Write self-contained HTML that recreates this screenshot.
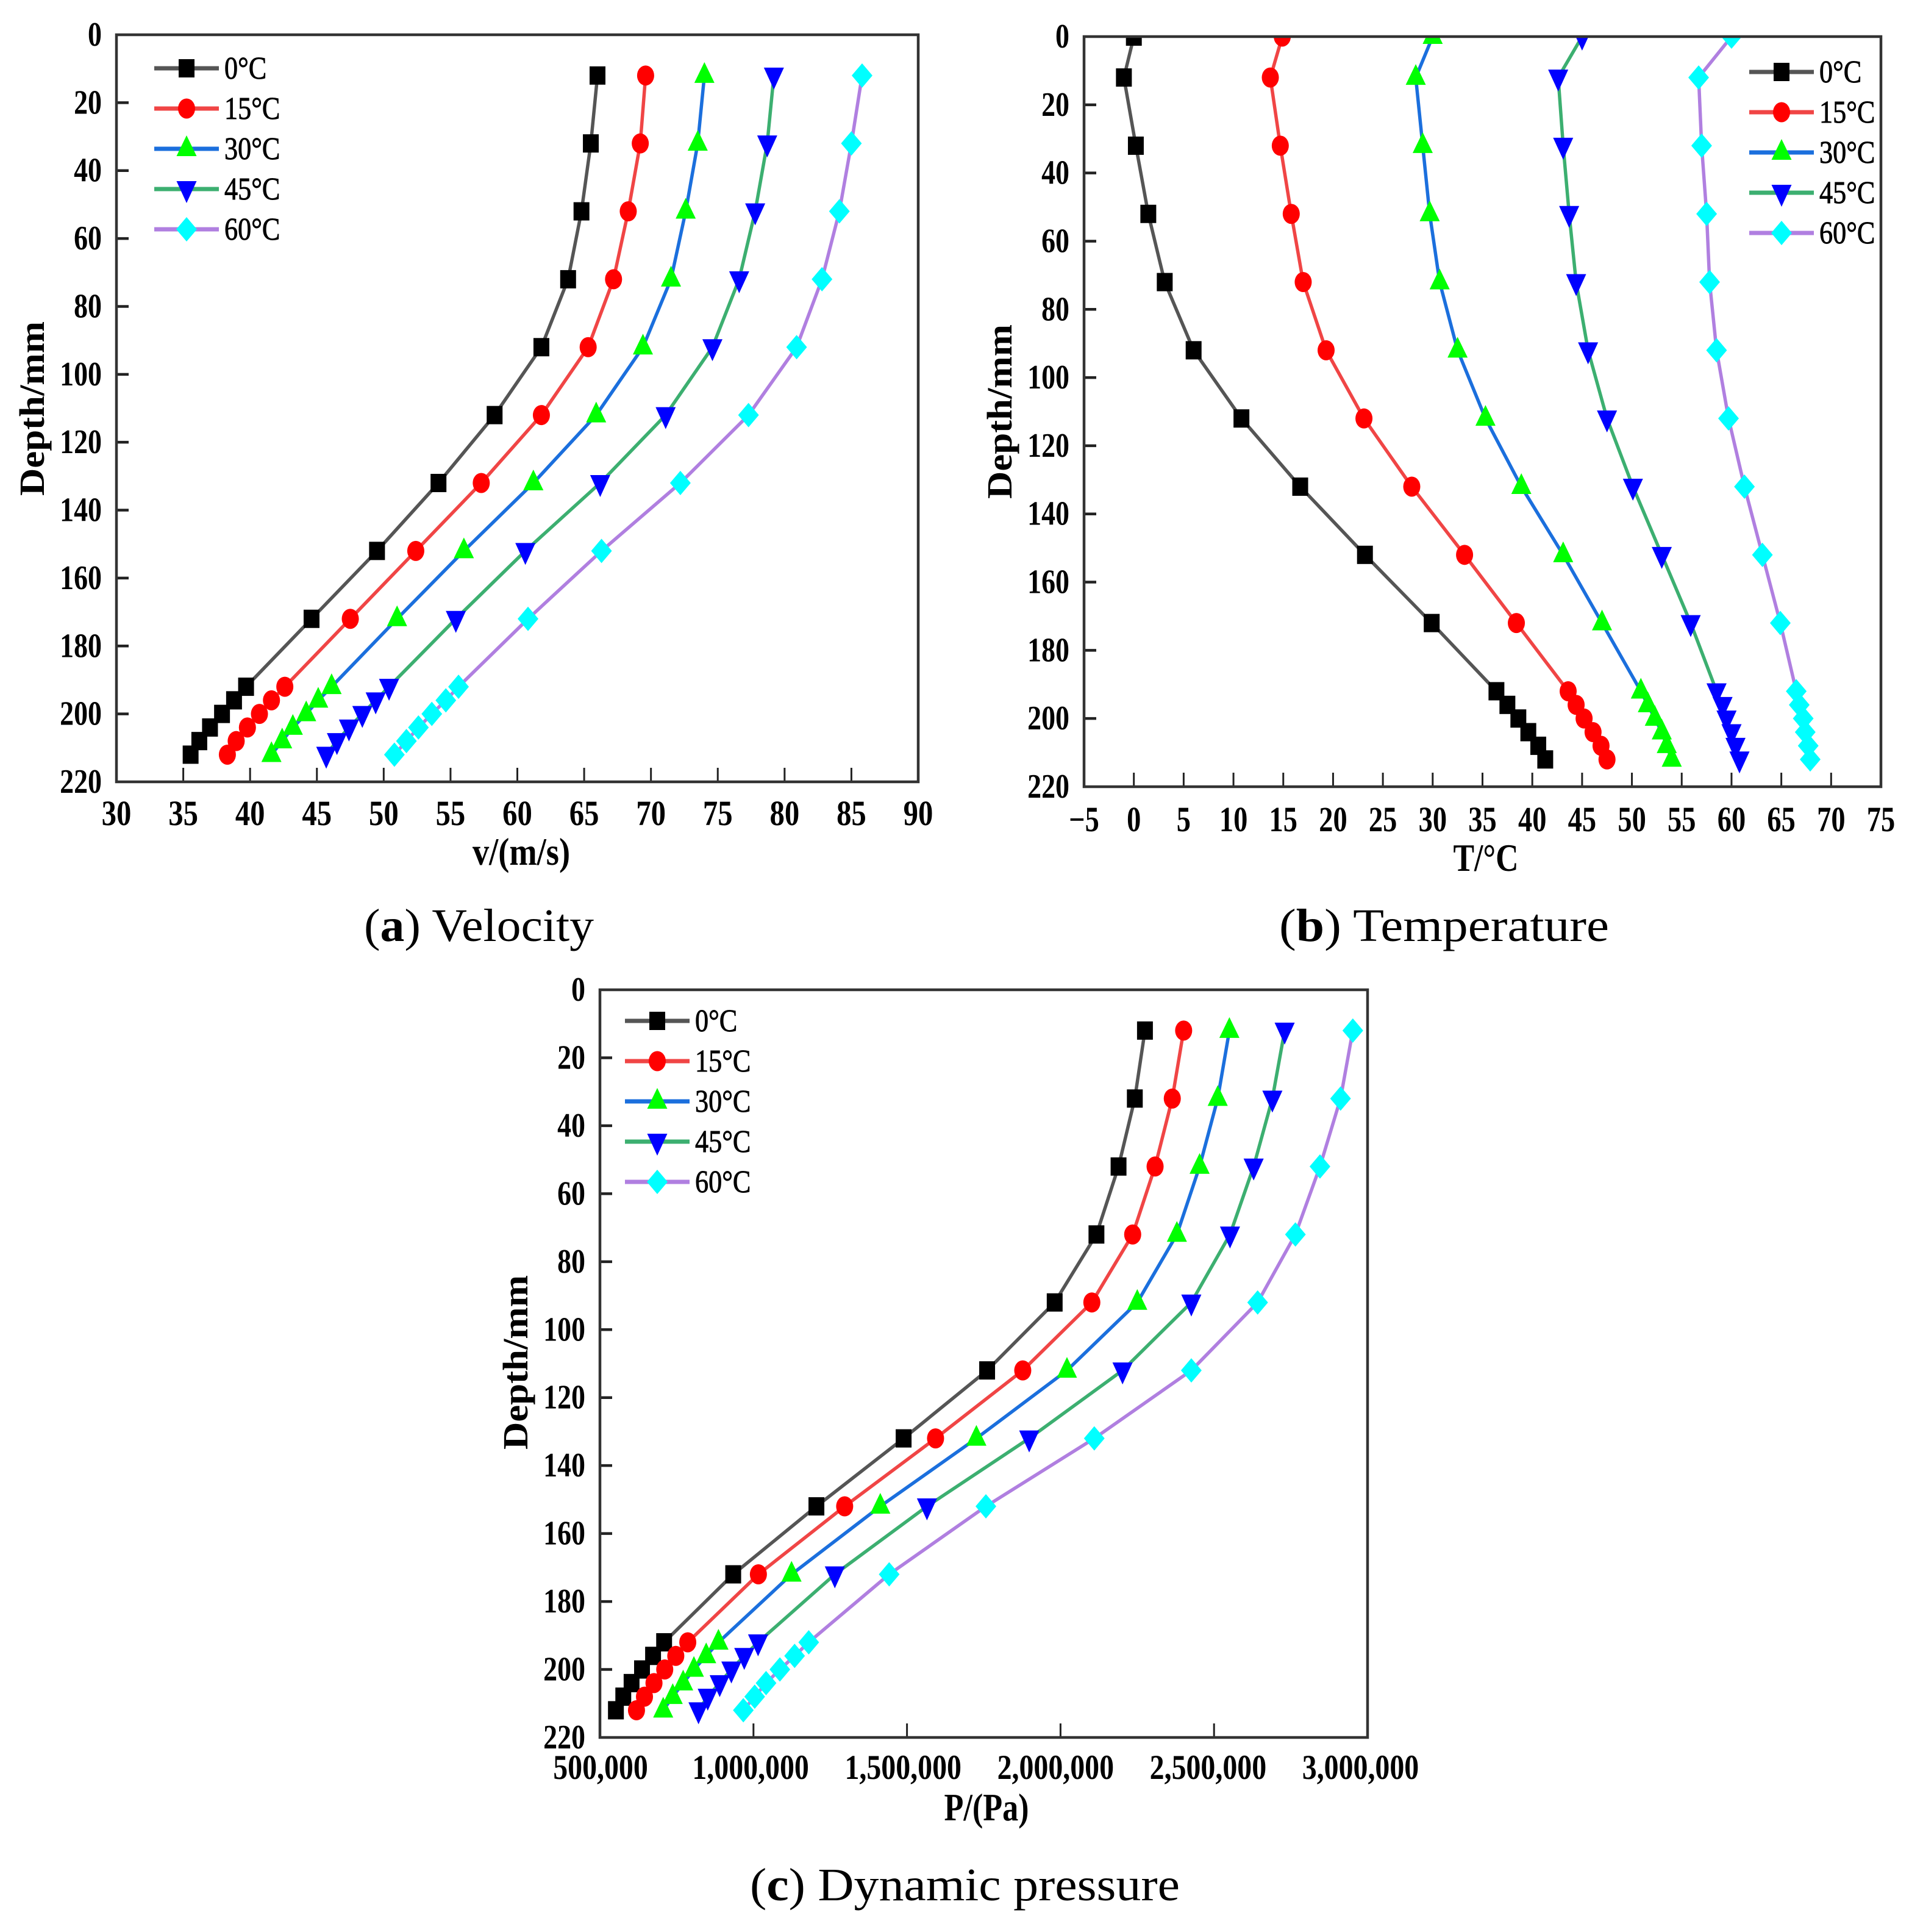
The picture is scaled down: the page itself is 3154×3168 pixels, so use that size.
<!DOCTYPE html>
<html lang="en">
<head>
<meta charset="utf-8">
<title>Velocity, temperature and dynamic pressure profiles</title>
<style>
html,body{margin:0;padding:0;background:#fff;}
svg{display:block;}
text{font-family:"Liberation Serif",serif;fill:#000;}
</style>
</head>
<body>
<svg id="root" xmlns="http://www.w3.org/2000/svg" width="3154" height="3168" viewBox="0 0 3154 3168">
  <defs>
    <clipPath id="clip-a"><rect x="191" y="57" width="1315" height="1226"/></clipPath>
    <clipPath id="clip-b"><rect x="1778" y="60" width="1307" height="1230"/></clipPath>
    <clipPath id="clip-c"><rect x="984" y="1623" width="1260" height="1227"/></clipPath>
  </defs>
  <rect x="0" y="0" width="3154" height="3168" fill="#fff"/>
  <g id="chart-a"></g>
  <g id="chart-b"></g>
  <g id="chart-c"></g>

  <text x="597" y="1543" font-size="76" textLength="377" lengthAdjust="spacingAndGlyphs">(<tspan font-weight="bold">a</tspan>) Velocity</text>
  <text x="2098" y="1543" font-size="76" textLength="541" lengthAdjust="spacingAndGlyphs">(<tspan font-weight="bold">b</tspan>) Temperature</text>
  <text x="1230" y="3116" font-size="76" textLength="705" lengthAdjust="spacingAndGlyphs">(<tspan font-weight="bold">c</tspan>) Dynamic pressure</text>
</svg>

<script>
// Categories
const temperatures = ['0°C', '15°C', '30°C', '45°C', '60°C'];

// Depth values (mm)
const depthsAC = [12, 32, 52, 72, 92, 112, 132, 152, 172, 192, 196, 200, 204, 208, 212];
const depthsB = [0, 12, 32, 52, 72, 92, 112, 132, 152, 172, 192, 196, 200, 204, 208, 212];

// Velocity series (m/s)
const velocity0 = [66.0, 65.5, 64.8, 63.8, 61.8, 58.3, 54.1, 49.5, 44.6, 39.7, 38.8, 37.9, 37.0, 36.2, 35.55];
const velocity15 = [69.6, 69.2, 68.3, 67.2, 65.3, 61.8, 57.3, 52.4, 47.5, 42.6, 41.6, 40.7, 39.8, 38.96, 38.3];
const velocity30 = [74.0, 73.5, 72.6, 71.5, 69.4, 65.9, 61.2, 56.0, 51.0, 46.1, 45.1, 44.2, 43.2, 42.4, 41.6];
const velocity45 = [79.2, 78.7, 77.8, 76.6, 74.6, 71.1, 66.2, 60.6, 55.4, 50.4, 49.4, 48.4, 47.4, 46.5, 45.7];
const velocity60 = [85.8, 85.0, 84.1, 82.8, 80.9, 77.3, 72.2, 66.3, 60.8, 55.6, 54.65, 53.6, 52.6, 51.7, 50.8];

// Temperature series (°C)
const temperature0 = [0, -1.0, 0.2, 1.45, 3.1, 6.0, 10.8, 16.7, 23.2, 29.9, 36.4, 37.5, 38.6, 39.6, 40.6, 41.3];
const temperature15 = [14.9, 13.7, 14.7, 15.8, 17.0, 19.3, 23.1, 27.9, 33.2, 38.4, 43.6, 44.4, 45.2, 46.1, 46.9, 47.5];
const temperature30 = [30.0, 28.3, 29.0, 29.7, 30.7, 32.5, 35.3, 38.9, 43.1, 47.0, 50.9, 51.6, 52.3, 53.0, 53.5, 54.0];
const temperature45 = [45.0, 42.6, 43.1, 43.7, 44.4, 45.6, 47.5, 50.1, 53.0, 55.9, 58.5, 59.1, 59.5, 60.0, 60.4, 60.8];
const temperature60 = [60.0, 56.7, 57.0, 57.5, 57.8, 58.5, 59.7, 61.3, 63.1, 64.9, 66.5, 66.8, 67.2, 67.4, 67.7, 67.9];

// Dynamic pressure series (Pa)
const pressure0 = [2275000, 2242000, 2189000, 2117000, 1981000, 1761000, 1489000, 1205000, 934000, 709000, 673000, 637000, 603000, 576000, 552000];
const pressure15 = [2401000, 2364000, 2308000, 2235000, 2102000, 1877000, 1593000, 1297000, 1016000, 786000, 747000, 711000, 676000, 645000, 619000];
const pressure30 = [2550000, 2512000, 2453000, 2379000, 2250000, 2021000, 1726000, 1413000, 1124000, 886000, 846000, 806000, 771000, 737000, 706000];
const pressure45 = [2730000, 2690000, 2629000, 2552000, 2426000, 2202000, 1898000, 1565000, 1265000, 1015000, 970000, 928000, 890000, 851000, 821000];
const pressure60 = [2952000, 2912000, 2845000, 2765000, 2642000, 2426000, 2110000, 1757000, 1442000, 1180000, 1134000, 1086000, 1041000, 1004000, 967000];

// Tick values
const depthTicks = [0, 20, 40, 60, 80, 100, 120, 140, 160, 180, 200, 220];
const velocityTicks = [30, 35, 40, 45, 50, 55, 60, 65, 70, 75, 80, 85, 90];
const temperatureTicks = [-5, 0, 5, 10, 15, 20, 25, 30, 35, 40, 45, 50, 55, 60, 65, 70, 75];
const pressureTicks = [500000, 1000000, 1500000, 2000000, 2500000, 3000000];

const SVG_NS = 'http://www.w3.org/2000/svg';
const LINE_COLORS = ['#555555', '#f04545', '#1b6fdd', '#3caf70', '#b07fe0'];
const MARK_COLORS = ['#000000', '#ff0000', '#00ff00', '#0000ff', '#00ffff'];

function slug(s) {
  return s.replace('°C', 'c').toLowerCase();
}

function makeLine(parent, x1, y1, x2, y2, color, width, name) {
  const el = document.createElementNS(SVG_NS, 'line');
  
  
  el.setAttribute('x1', x1);
  el.setAttribute('y1', y1);
  el.setAttribute('x2', x2);
  el.setAttribute('y2', y2);
  el.setAttribute('stroke', color);
  el.setAttribute('stroke-width', width);
  parent.appendChild(el);
  return el;
}

function makeText(parent, str, x, y, anchor, size, weight, sx, rot, name) {
  const el = document.createElementNS(SVG_NS, 'text');
  
  
  el.setAttribute('transform', 'translate(' + x + ',' + y + ') rotate(' + rot + ') scale(' + sx + ',1)');
  el.setAttribute('text-anchor', anchor);
  el.setAttribute('font-size', size);
  el.setAttribute('font-weight', weight);
  el.textContent = str;
  parent.appendChild(el);
  return el;
}

function markerShape(parent, kind, cx, cy, name) {
  let el;
  const color = MARK_COLORS[kind];
  if (kind === 0) {
    el = document.createElementNS(SVG_NS, 'rect');
    el.setAttribute('x', cx - 13);
    el.setAttribute('y', cy - 15);
    el.setAttribute('width', 26);
    el.setAttribute('height', 30);
  } else if (kind === 1) {
    el = document.createElementNS(SVG_NS, 'ellipse');
    el.setAttribute('cx', cx);
    el.setAttribute('cy', cy);
    el.setAttribute('rx', 14);
    el.setAttribute('ry', 16.5);
  } else {
    el = document.createElementNS(SVG_NS, 'polygon');
    let pts;
    if (kind === 2) {
      pts = [[cx, cy - 22], [cx + 16.5, cy + 12], [cx - 16.5, cy + 12]];
    } else if (kind === 3) {
      pts = [[cx - 16.5, cy - 13], [cx + 16.5, cy - 13], [cx, cy + 23]];
    } else {
      pts = [[cx, cy - 20], [cx + 17, cy], [cx, cy + 20], [cx - 17, cy]];
    }
    el.setAttribute('points', pts.map(function (p) { return p.join(','); }).join(' '));
  }
  
  
  el.setAttribute('fill', color);
  parent.appendChild(el);
  return el;
}

function drawChart(cfg) {
  const root = document.getElementById(cfg.id);
  const xScale = function (v) {
    return cfg.left + (v - cfg.xMin) / (cfg.xMax - cfg.xMin) * (cfg.right - cfg.left);
  };
  const yScale = function (d) {
    return cfg.top + d / 220 * (cfg.bottom - cfg.top);
  };

  // series
  const plot = document.createElementNS(SVG_NS, 'g');
  
  
  plot.setAttribute('clip-path', 'url(#' + cfg.clip + ')');
  root.appendChild(plot);

  cfg.series.forEach(function (values, s) {
    const group = document.createElementNS(SVG_NS, 'g');
    
    
    plot.appendChild(group);

    const path = document.createElementNS(SVG_NS, 'polyline');
    
    
    path.setAttribute('fill', 'none');
    path.setAttribute('stroke', LINE_COLORS[s]);
    path.setAttribute('stroke-width', 5.5);
    path.setAttribute('stroke-linejoin', 'round');
    path.setAttribute('points', values.map(function (v, i) {
      return xScale(v) + ',' + yScale(cfg.depths[i]);
    }).join(' '));
    group.appendChild(path);

    values.forEach(function (v, i) {
      markerShape(group, s, xScale(v), yScale(cfg.depths[i]), 'point-' + slug(temperatures[s]) + '-depth-' + cfg.depths[i]);
    });
  });

  // ticks and labels
  cfg.xTicks.forEach(function (t, i) {
    const x = xScale(t);
    if (i > 0 && i < cfg.xTicks.length - 1) {
      makeLine(root, x, cfg.bottom, x, cfg.bottom - 23, '#222', 3, 'x-tick-' + t);
    }
    makeText(root, cfg.xFormat(t), x + cfg.xLabelShift(i), cfg.bottom + cfg.xLabelDrop, 'middle', cfg.xLabelSize, 'bold', cfg.xLabelScale, 0, 'x-tick-label-' + t);
  });
  depthTicks.forEach(function (d, i) {
    const y = yScale(d);
    if (i > 0 && i < depthTicks.length - 1) {
      makeLine(root, cfg.left, y, cfg.left + 20, y, '#222', 4.5, 'y-tick-' + d);
    }
    makeText(root, String(d), cfg.left - 24, y + 18, 'end', 56, 'bold', 0.82, 0, 'y-tick-label-' + d);
  });

  // frame
  const frame = document.createElementNS(SVG_NS, 'rect');
  
  
  frame.setAttribute('x', cfg.left);
  frame.setAttribute('y', cfg.top);
  frame.setAttribute('width', cfg.right - cfg.left);
  frame.setAttribute('height', cfg.bottom - cfg.top);
  frame.setAttribute('fill', 'none');
  frame.setAttribute('stroke', '#333');
  frame.setAttribute('stroke-width', 4.5);
  root.appendChild(frame);

  // legend
  const legend = document.createElementNS(SVG_NS, 'g');
  
  
  root.appendChild(legend);
  temperatures.forEach(function (label, s) {
    const entry = document.createElementNS(SVG_NS, 'g');
    
    
    legend.appendChild(entry);
    const y = cfg.legendY + s * 66;
    makeLine(entry, cfg.legendX, y, cfg.legendX + 106, y, LINE_COLORS[s], 7, 'legend-line-' + slug(label));
    markerShape(entry, s, cfg.legendX + 53, y, 'legend-marker-' + slug(label));
    const labelEl = makeText(entry, label, cfg.legendX + 115, y + 17, 'start', 52, 'normal', 0.85, 0, 'legend-label-' + slug(label));
    labelEl.setAttribute('stroke', '#000');
    labelEl.setAttribute('stroke-width', '0.9');
  });

  // axis titles
  makeText(root, 'Depth/mm', cfg.left - 119, cfg.yTitleY, 'middle', 58, 'bold', 1.083, -90, 'y-axis-title');
  makeText(root, cfg.xTitle, cfg.xTitleX, cfg.xTitleY, 'middle', 64, 'bold', cfg.xTitleScale, 0, 'x-axis-title');
}

function plainNumber(t) {
  return t < 0 ? '\u2212' + Math.abs(t) : String(t);
}

function commaNumber(t) {
  return String(t).replace(/\B(?=(\d{3})+$)/g, ',');
}

drawChart({
  id: 'chart-a', clip: 'clip-a',
  left: 191, right: 1506, top: 57, bottom: 1282,
  xMin: 30, xMax: 90,
  xTicks: velocityTicks, xFormat: plainNumber,
  xLabelShift: function () { return 0; },
  xLabelDrop: 71, xLabelSize: 58, xLabelScale: 0.84,
  depths: depthsAC,
  series: [velocity0, velocity15, velocity30, velocity45, velocity60],
  legendX: 253, legendY: 112,
  yTitleY: 670,
  xTitle: 'v/(m/s)', xTitleX: 855, xTitleY: 1418, xTitleScale: 0.85
});

drawChart({
  id: 'chart-b', clip: 'clip-b',
  left: 1778, right: 3085, top: 60, bottom: 1290,
  xMin: -5, xMax: 75,
  xTicks: temperatureTicks, xFormat: plainNumber,
  xLabelShift: function () { return 0; },
  xLabelDrop: 73, xLabelSize: 58, xLabelScale: 0.8,
  depths: depthsB,
  series: [temperature0, temperature15, temperature30, temperature45, temperature60],
  legendX: 2869, legendY: 118,
  yTitleY: 675,
  xTitle: 'T/°C', xTitleX: 2437, xTitleY: 1428, xTitleScale: 0.81
});

drawChart({
  id: 'chart-c', clip: 'clip-c',
  left: 984, right: 2243, top: 1623, bottom: 2849,
  xMin: 500000, xMax: 3000000,
  xTicks: pressureTicks, xFormat: commaNumber,
  xLabelShift: function (i) { return i === 0 ? 1 : -3 - i * 1.7; },
  xLabelDrop: 68, xLabelSize: 57, xLabelScale: 0.84,
  depths: depthsAC,
  series: [pressure0, pressure15, pressure30, pressure45, pressure60],
  legendX: 1025, legendY: 1674,
  yTitleY: 2234,
  xTitle: 'P/(Pa)', xTitleX: 1618, xTitleY: 2985, xTitleScale: 0.815
});
</script>
</body>
</html>
